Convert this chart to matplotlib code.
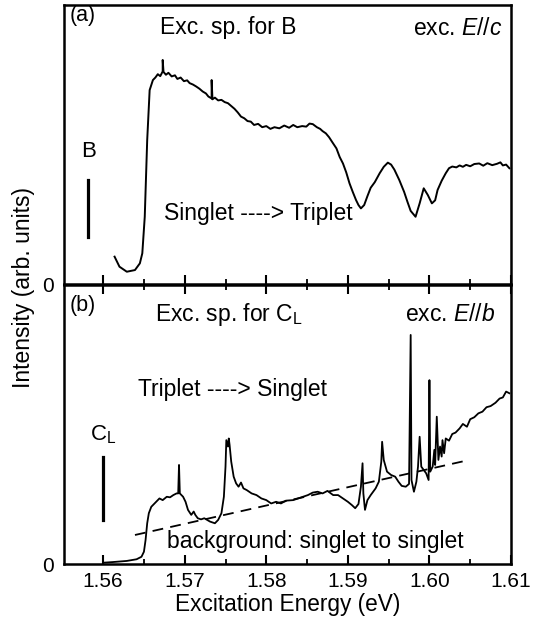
import numpy as np
import matplotlib
matplotlib.use("Agg")
import matplotlib.pyplot as plt

plt.rcParams['font.family'] = ['Liberation Sans', 'DejaVu Sans']
plt.rcParams['mathtext.fontset'] = 'custom'
plt.rcParams['mathtext.rm'] = 'Liberation Sans'
plt.rcParams['mathtext.it'] = 'Liberation Sans:italic'

# (a) excitation spectrum for B, exc. E//c
energy_a = [1.5614, 1.5620, 1.5629, 1.5639, 1.5645, 1.5648, 1.5651, 1.5654, 1.5657, 1.5661,
            1.5664, 1.5667, 1.5670, 1.5673, 1.5673, 1.5674, 1.5677, 1.5680, 1.5684, 1.5688,
            1.5691, 1.5695, 1.5699, 1.5703, 1.5706, 1.5710, 1.5714, 1.5718, 1.5722, 1.5726,
            1.5729, 1.5733, 1.5733, 1.5734, 1.5737, 1.5741, 1.5745, 1.5749, 1.5753, 1.5757,
            1.5761, 1.5765, 1.5769, 1.5773, 1.5777, 1.5781, 1.5785, 1.5790, 1.5795, 1.5800,
            1.5805, 1.5810, 1.5816, 1.5822, 1.5828, 1.5833, 1.5838, 1.5844, 1.5849, 1.5853,
            1.5857, 1.5862, 1.5866, 1.5869, 1.5873, 1.5877, 1.5881, 1.5886, 1.5890, 1.5894,
            1.5898, 1.5902, 1.5906, 1.5910, 1.5913, 1.5916, 1.5920, 1.5924, 1.5928, 1.5933,
            1.5939, 1.5944, 1.5949, 1.5953, 1.5957, 1.5963, 1.5969, 1.5973, 1.5977, 1.5983,
            1.5988, 1.5993, 1.5998, 1.6003, 1.6007, 1.6010, 1.6015, 1.6020, 1.6024, 1.6028,
            1.6033, 1.6037, 1.6041, 1.6045, 1.6050, 1.6055, 1.6061, 1.6066, 1.6071, 1.6077,
            1.6083, 1.6087, 1.6090, 1.6094, 1.6098]
intensity_a = [0.098, 0.062, 0.044, 0.050, 0.074, 0.110, 0.241, 0.516, 0.695, 0.731,
               0.740, 0.752, 0.745, 0.762, 0.803, 0.760, 0.750, 0.757, 0.744, 0.748,
               0.735, 0.740, 0.727, 0.730, 0.720, 0.715, 0.708, 0.700, 0.690, 0.683,
               0.672, 0.665, 0.731, 0.662, 0.668, 0.658, 0.660, 0.652, 0.648, 0.638,
               0.628, 0.615, 0.600, 0.594, 0.584, 0.582, 0.570, 0.574, 0.562, 0.566,
               0.556, 0.562, 0.558, 0.568, 0.560, 0.570, 0.562, 0.566, 0.564, 0.575,
               0.573, 0.562, 0.556, 0.548, 0.540, 0.526, 0.508, 0.486, 0.455, 0.432,
               0.400, 0.361, 0.330, 0.301, 0.283, 0.271, 0.283, 0.315, 0.345, 0.365,
               0.397, 0.420, 0.435, 0.428, 0.410, 0.373, 0.330, 0.295, 0.262, 0.241,
               0.289, 0.343, 0.319, 0.289, 0.300, 0.337, 0.370, 0.397, 0.415, 0.421,
               0.418, 0.425, 0.420, 0.427, 0.422, 0.430, 0.432, 0.424, 0.433, 0.426,
               0.431, 0.436, 0.425, 0.428, 0.415]

# (b) excitation spectrum for C_L, exc. E//b
energy_b = [1.5602, 1.5612, 1.5629, 1.5641, 1.5647, 1.5650, 1.5652, 1.5654, 1.5656, 1.5659,
            1.5663, 1.5665, 1.5669, 1.5673, 1.5678, 1.5682, 1.5686, 1.5690, 1.5692, 1.5693,
            1.5694, 1.5698, 1.5701, 1.5704, 1.5708, 1.5711, 1.5713, 1.5716, 1.5720, 1.5724,
            1.5731, 1.5737, 1.5741, 1.5745, 1.5748, 1.5750, 1.5751, 1.5753, 1.5754, 1.5755,
            1.5757, 1.5760, 1.5763, 1.5766, 1.5769, 1.5772, 1.5776, 1.5782, 1.5788, 1.5794,
            1.5800, 1.5806, 1.5812, 1.5818, 1.5824, 1.5833, 1.5839, 1.5845, 1.5851, 1.5857,
            1.5863, 1.5869, 1.5875, 1.5882, 1.5888, 1.5894, 1.5900, 1.5905, 1.5909, 1.5913,
            1.5916, 1.5918, 1.5919, 1.5921, 1.5924, 1.5928, 1.5934, 1.5938, 1.5941, 1.5942,
            1.5944, 1.5948, 1.5953, 1.5958, 1.5962, 1.5966, 1.5971, 1.5975, 1.5977, 1.5978,
            1.5981, 1.5984, 1.5986, 1.5988, 1.5990, 1.5993, 1.5996, 1.5999, 1.6000, 1.6001,
            1.6004, 1.6006, 1.6007, 1.6009, 1.6011, 1.6013, 1.6015, 1.6016, 1.6018, 1.6020,
            1.6024, 1.6028, 1.6032, 1.6037, 1.6041, 1.6046, 1.6050, 1.6055, 1.6060, 1.6065,
            1.6070, 1.6075, 1.6081, 1.6086, 1.6090, 1.6094, 1.6098]
intensity_b = [0.005, 0.007, 0.011, 0.017, 0.026, 0.044, 0.086, 0.146, 0.182, 0.205,
               0.217, 0.223, 0.235, 0.229, 0.241, 0.239, 0.247, 0.253, 0.253, 0.355,
               0.253, 0.241, 0.223, 0.194, 0.176, 0.188, 0.176, 0.164, 0.160, 0.164,
               0.152, 0.146, 0.158, 0.182, 0.241, 0.349, 0.444, 0.421, 0.450, 0.427,
               0.367, 0.313, 0.289, 0.277, 0.292, 0.271, 0.265, 0.253, 0.247, 0.235,
               0.229, 0.217, 0.223, 0.217, 0.227, 0.229, 0.235, 0.241, 0.247, 0.256,
               0.259, 0.253, 0.262, 0.247, 0.247, 0.235, 0.223, 0.211, 0.200, 0.215,
               0.277, 0.361, 0.253, 0.194, 0.229, 0.247, 0.271, 0.295, 0.367, 0.438,
               0.373, 0.331, 0.319, 0.313, 0.295, 0.280, 0.277, 0.287, 0.821, 0.301,
               0.259, 0.295, 0.349, 0.456, 0.349, 0.337, 0.325, 0.301, 0.659, 0.331,
               0.349, 0.409, 0.355, 0.528, 0.373, 0.421, 0.385, 0.444, 0.397, 0.450,
               0.442, 0.466, 0.471, 0.486, 0.502, 0.492, 0.519, 0.526, 0.540, 0.546,
               0.562, 0.566, 0.578, 0.593, 0.597, 0.618, 0.612]

# singlet-to-singlet background (dashed)
bg_energy = [1.5639, 1.6049]
bg_intensity = [0.104, 0.373]

# level markers
b_marker_energy = 1.5582
b_marker_range = [0.170, 0.373]
cl_marker_energy = 1.5600
cl_marker_range = [0.158, 0.385]

xticks = [1.56, 1.57, 1.58, 1.59, 1.60, 1.61]
xticklabels = ['1.56', '1.57', '1.58', '1.59', '1.60', '1.61']
xminor = [1.565, 1.575, 1.585, 1.595, 1.605]

fig = plt.figure(figsize=(5.4, 6.28), dpi=100)
ax1 = fig.add_axes([64/540, 1-284/628, 447/540, 279/628])
ax2 = fig.add_axes([64/540, 1-564/628, 447/540, 279/628])

for ax in (ax1, ax2):
    ax.set_xlim(1.5552, 1.6099)
    ax.set_ylim(0, 1)
    ax.set_xticks(xticks)
    ax.set_xticks(xminor, minor=True)
    ax.set_yticks([0])
    ax.set_yticklabels(['0'], fontsize=15)
    ax.tick_params(axis='x', which='major', direction='in', length=6.5, width=1.5)
    ax.tick_params(axis='x', which='minor', direction='in', length=3.5, width=1.3)
    ax.tick_params(axis='y', length=0, pad=7)
    for s in ax.spines.values():
        s.set_linewidth(1.8)

ax1.tick_params(axis='x', labelbottom=False)
ax2.tick_params(axis='x', which='both', top=True)
ax2.set_xticklabels(xticklabels, fontsize=15)
ax2.tick_params(axis='x', pad=6)
ax2.set_xlabel('Excitation Energy (eV)', fontsize=16.3, labelpad=1)

ax1.plot(energy_a, intensity_a, color='black', lw=1.4)
ax2.plot(energy_b, intensity_b, color='black', lw=1.3)
ax2.plot(bg_energy, bg_intensity, color='black', lw=1.3, linestyle=(0, (6, 4)))

ax1.plot([b_marker_energy]*2, b_marker_range, color='black', lw=2.3, clip_on=False)
ax2.plot([cl_marker_energy]*2, cl_marker_range, color='black', lw=2.3)
ax1.text(b_marker_energy, 0.474, 'B', fontsize=16, ha='center', va='center')
ax2.text(cl_marker_energy, 0.465, r'C$_\mathregular{L}$', fontsize=16, ha='center', va='center')

ax1.text(0.013, 0.964, '(a)', transform=ax1.transAxes, fontsize=15.5, va='center')
ax1.text(0.367, 0.921, 'Exc. sp. for B', transform=ax1.transAxes, fontsize=16.5, ha='center', va='center')
ax1.text(0.982, 0.914, r'exc. $\mathit{E//c}$', transform=ax1.transAxes, fontsize=16.5, ha='right', va='center')
ax1.text(0.434, 0.254, 'Singlet ----> Triplet', transform=ax1.transAxes, fontsize=16.5, ha='center', va='center')

ax2.text(0.013, 0.928, '(b)', transform=ax2.transAxes, fontsize=15.5, va='center')
ax2.text(0.204, 0.895, r'Exc. sp. for C$_\mathregular{L}$', transform=ax2.transAxes, fontsize=16.5, ha='left', va='center')
ax2.text(0.964, 0.896, r'exc. $\mathit{E//b}$', transform=ax2.transAxes, fontsize=16.5, ha='right', va='center')
ax2.text(0.166, 0.624, 'Triplet ----> Singlet', transform=ax2.transAxes, fontsize=16.5, ha='left', va='center')
ax2.text(0.230, 0.079, 'background: singlet to singlet', transform=ax2.transAxes, fontsize=16.5, ha='left', va='center')

fig.text(24/540, 1-288/628, 'Intensity (arb. units)', rotation=90, fontsize=16.5, ha='center', va='center')

fig.savefig('out.png', dpi=100)
